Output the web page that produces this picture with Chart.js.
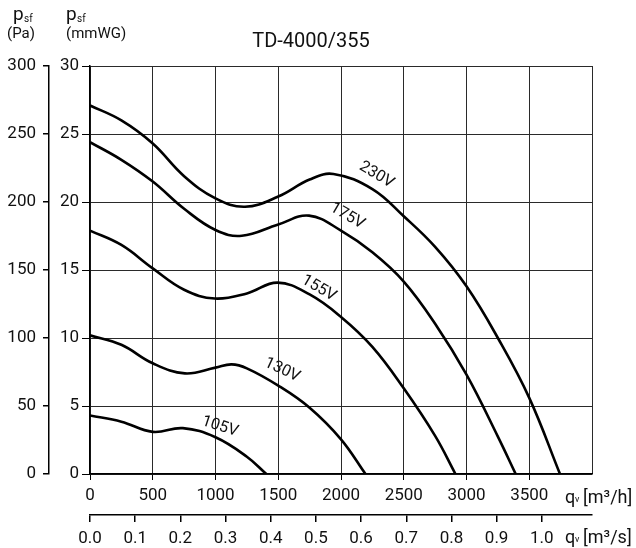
<!DOCTYPE html>
<html>
<head>
<meta charset="utf-8">
<script src="https://cdn.jsdelivr.net/npm/chart.js@4.4.1/dist/chart.umd.min.js"></script>
<style>
  html, body { margin: 0; padding: 0; background: #fff; }
  #wrap { width: 636px; height: 548px; }
</style>
</head>
<body>
<div id="wrap"><canvas id="fan"></canvas></div>
<script>
// airflow q [m3/h] and static pressure p [Pa] per supply voltage
var q230 = [0, 250, 500, 750, 1000, 1235, 1500, 1750, 1940, 2250, 2500, 2750, 3000, 3250, 3500, 3745];
var p230 = [271, 260, 243, 219, 202.7, 196.5, 204, 216.5, 220.6, 209.5, 189.5, 167, 138, 100, 56, 0];
var q175 = [0, 250, 500, 750, 1000, 1210, 1500, 1745, 2000, 2250, 2500, 2750, 3000, 3250, 3392];
var p175 = [244, 231, 215, 195, 179.4, 175.2, 183.5, 190, 179, 163, 141.5, 110.5, 73, 27.5, 0];
var q155 = [0, 250, 500, 750, 995, 1250, 1494, 1750, 2000, 2250, 2500, 2750, 2912];
var p155 = [179, 168.4, 151.2, 135.5, 129, 132.8, 140.7, 132, 115.5, 93.5, 63, 28, 0];
var q130 = [0, 250, 500, 756, 1000, 1128, 1250, 1500, 1750, 2000, 2195];
var p130 = [102, 95, 81.4, 74, 78.2, 80.6, 77.7, 65, 48.7, 25.5, 0];
var q105 = [0, 250, 500, 740, 1000, 1250, 1405];
var p105 = [43, 38.5, 31, 33.7, 27, 12.7, 0];

var voltages = ['230V', '175V', '155V', '130V', '105V'];
// where each voltage tag sits along its curve (data units) and its slant
var tagQ = [2283, 2050, 1823, 1531, 1035];
var tagP = [219.9, 189.7, 136.5, 76.5, 34.8];
var tagAngle = [31, 30, 30, 25, 18];

var qhTicks = [0, 500, 1000, 1500, 2000, 2500, 3000, 3500, 4000];
var qsTicks = [0, 0.1, 0.2, 0.3, 0.4, 0.5, 0.6, 0.7, 0.8, 0.9, 1.0];
var paTicks = [0, 50, 100, 150, 200, 250, 300];
var mmTicks = [0, 5, 10, 15, 20, 25, 30];

var FONT = 'Roboto, "Noto Sans", sans-serif';

function pts(qs, ps) {
  return qs.map(function (q, i) { return { x: q, y: ps[i] }; });
}

var series = [[q230, p230], [q175, p175], [q155, p155], [q130, p130], [q105, p105]];

var textPlugin = {
  id: 'fanText',
  afterDraw: function (chart) {
    var c = chart.ctx, xs = chart.scales.x, ys = chart.scales.y;
    c.save();
    c.fillStyle = '#111';
    c.textBaseline = 'alphabetic';

    c.textAlign = 'center';
    c.font = '20px ' + FONT;
    c.fillText('TD-4000/355', 311, 47);

    c.textAlign = 'left';
    c.font = '19px ' + FONT;
    c.fillText('p', 13, 20);
    c.fillText('p', 66, 20);
    c.font = '10px ' + FONT;
    c.fillText('sf', 24, 22);
    c.fillText('sf', 77, 22);
    c.font = '15px ' + FONT;
    c.fillText('(Pa)', 7, 38);
    c.fillText('(mmWG)', 66, 38);

    [['[m³/h]', 503], ['[m³/s]', 543]].forEach(function (u) {
      c.font = '18px ' + FONT;
      c.fillText('q', 565, u[1]);
      c.font = '9px ' + FONT;
      c.fillText('v', 575, u[1] - 1);
      c.font = '18px ' + FONT;
      c.fillText(u[0], 583, u[1]);
    });

    c.font = '16px ' + FONT;
    c.textAlign = 'center';
    c.textBaseline = 'middle';
    voltages.forEach(function (v, i) {
      c.save();
      c.translate(xs.getPixelForValue(tagQ[i]), ys.getPixelForValue(tagP[i]));
      c.rotate(tagAngle[i] * Math.PI / 180);
      c.fillText(v, 0, 0);
      c.restore();
    });
    c.restore();
  }
};

function fixTicks(list) {
  return function (s) { s.ticks = list.map(function (v) { return { value: v }; }); };
}

new Chart(document.getElementById('fan').getContext('2d'), {
  type: 'line',
  data: {
    datasets: series.map(function (s, i) {
      return {
        label: voltages[i],
        data: pts(s[0], s[1]),
        borderColor: '#000',
        borderWidth: 2.6,
        pointRadius: 0,
        fill: false,
        tension: 0.4,
        xAxisID: 'x',
        yAxisID: 'y'
      };
    })
  },
  options: {
    responsive: true,
    maintainAspectRatio: false,
    animation: false,
    events: [],
    layout: { padding: { top: 66, right: 44, left: 0, bottom: 0 } },
    plugins: { legend: { display: false }, tooltip: { enabled: false } },
    scales: {
      x: {
        type: 'linear', position: 'bottom', min: 0, max: 4000, weight: 0,
        afterBuildTicks: fixTicks(qhTicks),
        afterFit: function (s) { s.height = 41; },
        grid: {
          color: '#2a2a2a', lineWidth: 1, tickLength: 6,
          tickColor: function (ctx) { return ctx.tick && ctx.tick.value === 4000 ? 'rgba(0,0,0,0)' : '#000'; }
        },
        border: { color: '#000', width: 1.5 },
        ticks: {
          color: '#111', font: { family: FONT, size: 17 }, padding: 6,
          maxRotation: 0, autoSkip: false,
          callback: function (v) { return v === 4000 ? '' : String(v); }
        }
      },
      x2: {
        type: 'linear', position: 'bottom', min: 0, max: 4000 / 3600, weight: 1,
        afterBuildTicks: fixTicks(qsTicks),
        afterFit: function (s) { s.height = 33; },
        grid: { drawOnChartArea: false, tickLength: 7, tickColor: '#000', lineWidth: 1.5 },
        border: { color: '#000', width: 1.5 },
        ticks: {
          color: '#111', font: { family: FONT, size: 17 }, padding: 7,
          maxRotation: 0, autoSkip: false,
          callback: function (v) { return v.toFixed(1); }
        }
      },
      y: {
        type: 'linear', position: 'left', min: 0, max: 300, weight: 1,
        afterBuildTicks: fixTicks(paTicks),
        afterFit: function (s) { s.width = 49; },
        grid: { drawOnChartArea: false, tickLength: 6, tickColor: '#000', lineWidth: 1.5 },
        border: { color: '#000', width: 1.5 },
        ticks: { color: '#111', font: { family: FONT, size: 17 }, padding: 7 }
      },
      y2: {
        type: 'linear', position: 'left', min: 0, max: 30, weight: 0,
        afterBuildTicks: fixTicks(mmTicks),
        afterFit: function (s) { s.width = 41; },
        grid: { color: '#2a2a2a', lineWidth: 1, tickLength: 8, tickColor: '#000' },
        border: { color: '#000', width: 1.5 },
        ticks: { color: '#111', font: { family: FONT, size: 17 }, padding: 3 }
      }
    }
  },
  plugins: [textPlugin]
});
</script>
</body>
</html>
